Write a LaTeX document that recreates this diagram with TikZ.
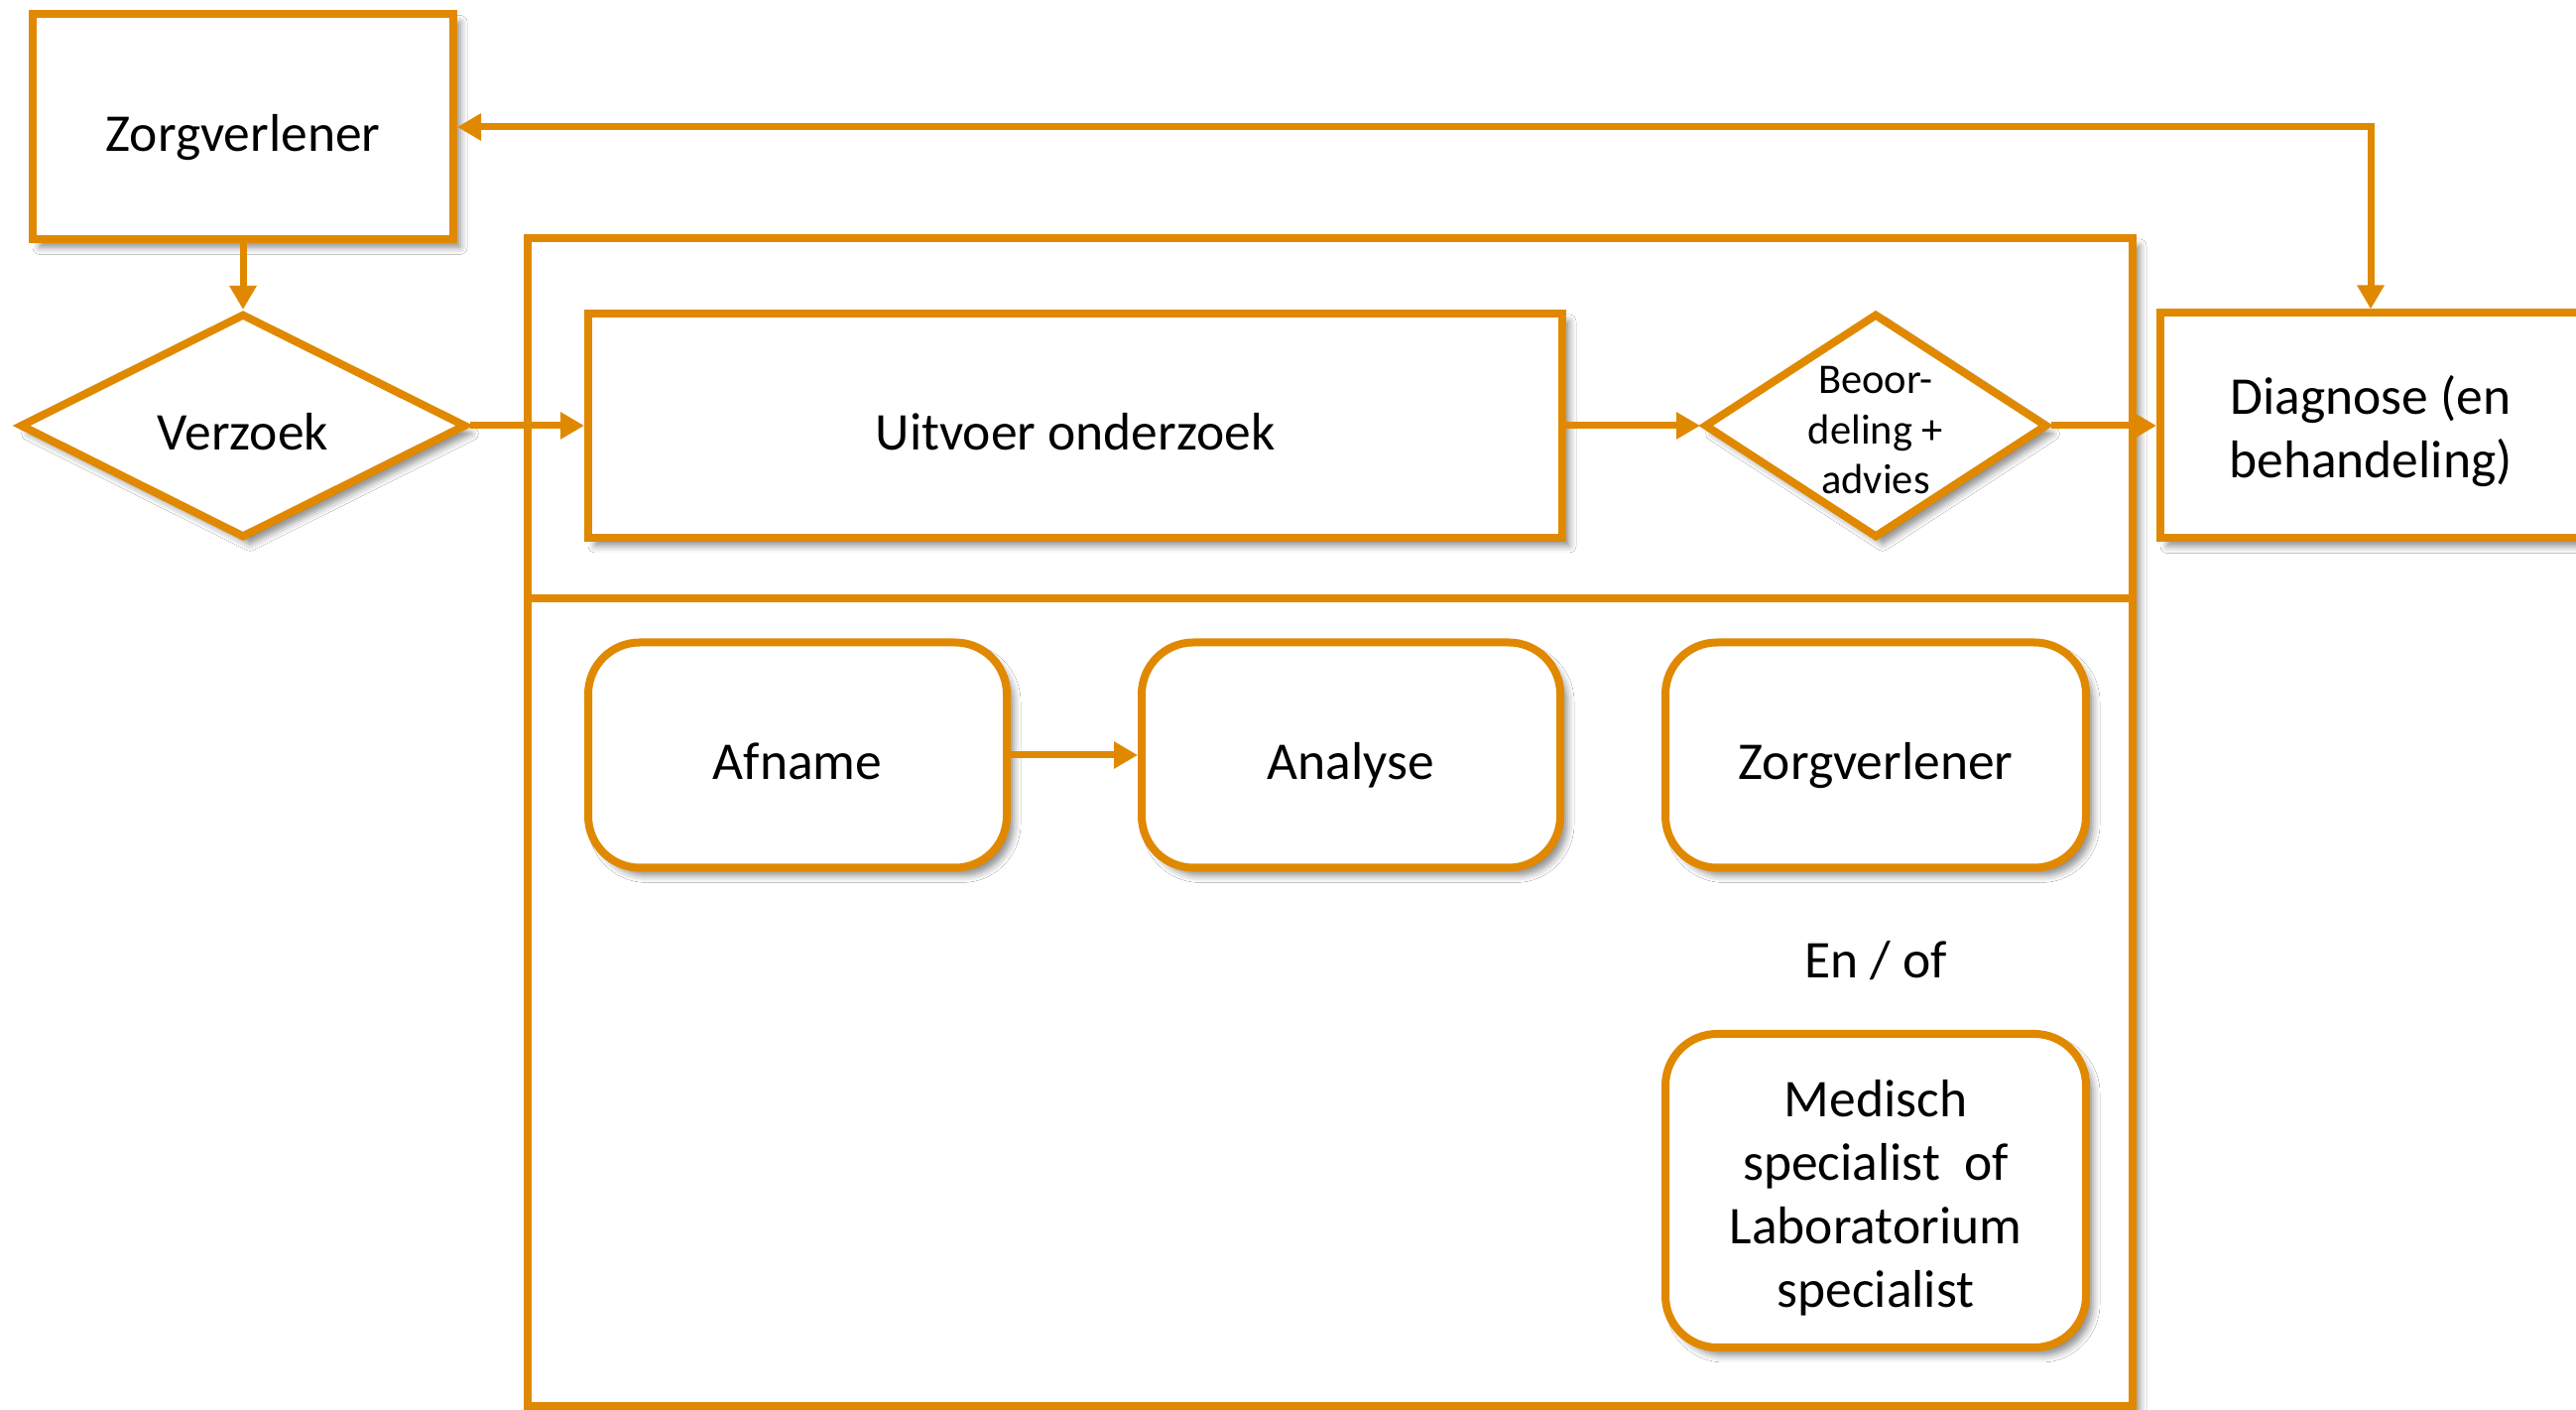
\documentclass[tikz,border=0pt]{standalone}
\usepackage{fontspec}
\setmainfont{Carlito}
\usetikzlibrary{arrows.meta,shapes.geometric,shadows.blur}
\definecolor{lineColor}{RGB}{224,137,0}
\tikzset{
  shade/.style={blur shadow={shadow xshift=7pt,shadow yshift=-8pt,shadow blur radius=7pt,shadow opacity=45}},
  box/.style={draw=lineColor,line width=8pt,fill=white,shade,align=center,inner sep=0pt,
    font=\fontsize{53.5}{64}\selectfont,
    execute at begin node={\rule{0pt}{1.2em}},
    execute at end node={\rule[-0.3em]{0pt}{0.3em}}},
  roundbox/.style={box,rounded corners=52pt},
  decision/.style={box,diamond,aspect=1.5},
  link/.style={draw=lineColor,line width=7pt,-{Triangle[length=24pt,width=26pt]}},
}
\begin{document}
\begin{tikzpicture}[x=1pt,y=1pt]
\path[use as bounding box,fill=white] (0,0) rectangle (2597,1421);

% container
\path[draw=lineColor,line width=8pt,fill=white,shade] (532,4) rectangle (2150,1181);
\path[draw=lineColor,line width=8pt] (532,818) -- (2150,818);

% top row
\node[box,minimum width=424pt,minimum height=227pt] (zorgverlener) at (245,1293) {Zorgverlener};
\node[decision,minimum width=450pt,minimum height=226pt] (verzoek) at (245,992) {Verzoek};
\node[box,minimum width=982pt,minimum height=226pt] (uitvoer) at (1084,992) {Uitvoer onderzoek};
\node[decision,minimum width=346pt,minimum height=226pt,font=\fontsize{42.5}{50.5}\selectfont,
  text height=150pt,text depth=12.75pt,inner ysep=-25pt,aspect=1.53] (beoordeling) at (1891,992) {Beoor-\\deling +\\advies};
\node[box,minimum width=424pt,minimum height=227pt,text height=122pt,text depth=16pt] (diagnose) at (2390,992) {Diagnose (en\\behandeling)};

% bottom panel
\node[roundbox,minimum width=422pt,minimum height=227pt] (afname) at (804,660) {Afname};
\node[roundbox,minimum width=422pt,minimum height=227pt] (analyse) at (1362,660) {Analyse};
\node[roundbox,minimum width=424pt,minimum height=227pt] (zorgverlenerB) at (1891,660) {Zorgverlener};
\node[font=\fontsize{53.5}{64}\selectfont] (enof) at (1891,453) {En / of};
\node[roundbox,minimum width=424pt,minimum height=316pt,text height=251pt,text depth=16pt] (medisch) at (1891,221) {Medisch\\specialist~ of\\Laboratorium\\specialist};

% connectors
\draw[link] (zorgverlener) -- (verzoek);
\draw[link] (verzoek) -- (uitvoer);
\draw[link] (uitvoer) -- (beoordeling);
\draw[link] (beoordeling) -- (diagnose);
\draw[link] (afname) -- (analyse);
\draw[link,{Triangle[length=24pt,width=26pt]}-{Triangle[length=24pt,width=26pt]}] (zorgverlener.east) -- (zorgverlener.east -| diagnose.north) -- (diagnose.north);
\end{tikzpicture}
\end{document}
